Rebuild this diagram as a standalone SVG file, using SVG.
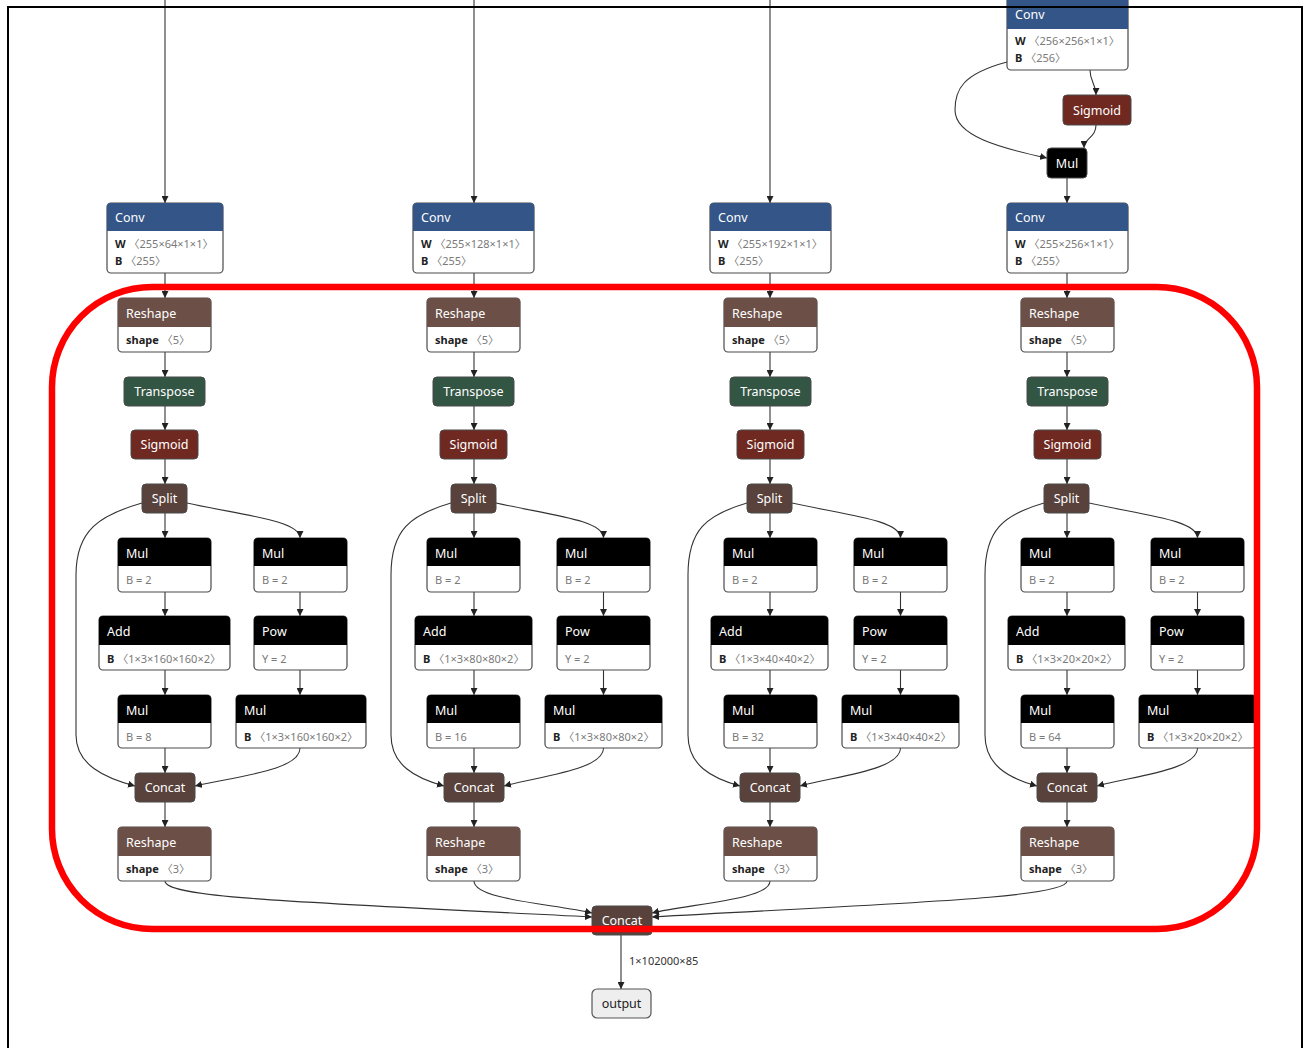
<svg xmlns="http://www.w3.org/2000/svg" width="1306" height="1048" viewBox="0 0 1306 1048">
<style>
.bx{fill:#fff;stroke:#4a4a4a;stroke-width:1.2}
.lay{fill:#335588}.act{fill:#702921}.shp{fill:#6c4f47}.ten{fill:#59423b}.trn{fill:#335544}.def{fill:#000}
.ht{font-family:"Noto Sans","Open Sans",sans-serif;font-size:12.5px;fill:#fff}
.hc{font-family:"Noto Sans","Open Sans",sans-serif;font-size:12.5px;fill:#fff;text-anchor:middle}
.at{font-family:"Noto Sans","Noto Sans CJK SC",sans-serif;font-size:11px;fill:#7a7a7a}
.an{font-weight:bold;fill:#222}
.e{fill:none;stroke:#333;stroke-width:1.1;marker-end:url(#ah)}
.frame{fill:none;stroke:#000;stroke-width:2}
.red{fill:none;stroke:#f00;stroke-width:6.5}
.lbl{font-family:"Noto Sans",sans-serif;font-size:11px;fill:#333}
</style>
<defs>
<marker id="ah" markerUnits="userSpaceOnUse" markerWidth="8" markerHeight="7" refX="7" refY="3.5" orient="auto">
<path d="M0,0 L7,3.5 L0,7 z" fill="#222"/>
</marker>
</defs>
<rect width="1306" height="1048" fill="#fff"/>

<g id="connectors">
<path class="e" d="M165,0 V203"/>
<path class="e" d="M474,0 V203"/>
<path class="e" d="M770,0 V203"/>
<path class="e" d="M1090,70 C1090,82 1096,84 1096,95"/>
<path class="e" d="M1007,62 C962,74 955,90 955,110 C955,136 1000,148 1047,158"/>
<path class="e" d="M1096,125 C1096,138 1084,138 1084,148"/>
<path class="e" d="M1067,178 V203"/>
<!-- col1 -->
<path class="e" d="M165,273 V298"/><path class="e" d="M165,352 V377"/><path class="e" d="M165,406 V430"/><path class="e" d="M165,459 V484"/><path class="e" d="M165,513 V538"/><path class="e" d="M165,592 V616"/><path class="e" d="M165,670 V695"/><path class="e" d="M165,748 V773"/><path class="e" d="M165,802 V827"/>
<path class="e" d="M187,503 C240,515 300,520 300,538"/><path class="e" d="M300,592 V616"/><path class="e" d="M300,670 V695"/>
<path class="e" d="M142,503 C100,515 76,530 76,575 V735 C76,765 105,778 135,786"/>
<path class="e" d="M300,748 C300,770 240,776 195,786"/>
<!-- col2 -->
<path class="e" d="M474,273 V298"/><path class="e" d="M474,352 V377"/><path class="e" d="M474,406 V430"/><path class="e" d="M474,459 V484"/><path class="e" d="M474,513 V538"/><path class="e" d="M474,592 V616"/><path class="e" d="M474,670 V695"/><path class="e" d="M474,748 V773"/><path class="e" d="M474,802 V827"/>
<path class="e" d="M496,503 C550,515 603.5,520 603.5,538"/><path class="e" d="M603.5,592 V616"/><path class="e" d="M603.5,670 V695"/>
<path class="e" d="M451,503 C410,515 391,530 391,575 V735 C391,765 415,778 444,786"/>
<path class="e" d="M603.5,748 C603.5,770 540,776 504,786"/>
<!-- col3 -->
<path class="e" d="M770,273 V298"/><path class="e" d="M770,352 V377"/><path class="e" d="M770,406 V430"/><path class="e" d="M770,459 V484"/><path class="e" d="M770,513 V538"/><path class="e" d="M770,592 V616"/><path class="e" d="M770,670 V695"/><path class="e" d="M770,748 V773"/><path class="e" d="M770,802 V827"/>
<path class="e" d="M792,503 C846,515 900.5,520 900.5,538"/><path class="e" d="M900.5,592 V616"/><path class="e" d="M900.5,670 V695"/>
<path class="e" d="M747,503 C706,515 688,530 688,575 V735 C688,765 711,778 740,786"/>
<path class="e" d="M900.5,748 C900.5,770 837,776 800,786"/>
<!-- col4 -->
<path class="e" d="M1067,273 V298"/><path class="e" d="M1067,352 V377"/><path class="e" d="M1067,406 V430"/><path class="e" d="M1067,459 V484"/><path class="e" d="M1067,513 V538"/><path class="e" d="M1067,592 V616"/><path class="e" d="M1067,670 V695"/><path class="e" d="M1067,748 V773"/><path class="e" d="M1067,802 V827"/>
<path class="e" d="M1089,503 C1143,515 1197.5,520 1197.5,538"/><path class="e" d="M1197.5,592 V616"/><path class="e" d="M1197.5,670 V695"/>
<path class="e" d="M1044,503 C1003,515 985,530 985,575 V735 C985,765 1008,778 1037,786"/>
<path class="e" d="M1197.5,748 C1197.5,770 1134,776 1097,786"/>
<!-- bottom -->
<path class="e" d="M165,881 C165,898 300,902 592,917"/>
<path class="e" d="M474,881 C474,900 555,904 592,913"/>
<path class="e" d="M770,881 C770,900 688,904 652,913"/>
<path class="e" d="M1067,881 C1067,898 900,903 652,917"/>
<path class="e" d="M621,935 V989"/>
</g>

<!-- top-right -->
<g id="conv_top"><rect class="bx" x="1007" y="-4" width="121" height="74" rx="4"/><path class="lay" d="M1007,29 V0 Q1007,-4 1011,-4 H1124 Q1128,-4 1128,0 V29 Z"/><text class="ht" x="1015" y="19">Conv</text><text class="at" x="1015" y="45"><tspan class="an">W</tspan> 〈256×256×1×1〉</text><text class="at" x="1015" y="62"><tspan class="an">B</tspan> 〈256〉</text></g>
<g id="sigmoid_top"><rect class="act" x="1063" y="95" width="68" height="30" rx="4" stroke="#4a4a4a"/><text class="hc" x="1097" y="115">Sigmoid</text></g>
<g id="mul_top"><rect class="def" x="1047" y="148" width="40" height="30" rx="4" stroke="#4a4a4a"/><text class="hc" x="1067" y="168">Mul</text></g>

<!-- column 1 -->
<g id="conv1"><rect class="bx" x="107" y="203" width="116" height="70" rx="4"/><path class="lay" d="M107,231 V207 Q107,203 111,203 H219 Q223,203 223,207 V231 Z"/><text class="ht" x="115" y="222">Conv</text><text class="at" x="115" y="248"><tspan class="an">W</tspan> 〈255×64×1×1〉</text><text class="at" x="115" y="265"><tspan class="an">B</tspan> 〈255〉</text></g>
<g id="reshape1"><rect class="bx" x="118" y="298" width="93" height="54" rx="4"/><path class="shp" d="M118,327 V302 Q118,298 122,298 H207 Q211,298 211,302 V327 Z"/><text class="ht" x="126" y="318">Reshape</text><text class="at" x="126" y="344"><tspan class="an">shape</tspan> 〈5〉</text></g>
<g id="transpose1"><rect class="trn" x="124" y="377" width="81" height="29" rx="4" stroke="#4a4a4a"/><text class="hc" x="164.5" y="396">Transpose</text></g>
<g id="sigmoid1"><rect class="act" x="131" y="430" width="67" height="29" rx="4" stroke="#4a4a4a"/><text class="hc" x="164.5" y="449">Sigmoid</text></g>
<g id="split1"><rect class="ten" x="142" y="484" width="45" height="29" rx="4" stroke="#4a4a4a"/><text class="hc" x="164.5" y="503">Split</text></g>
<g id="mul1a"><rect class="bx" x="118" y="538" width="93" height="54" rx="4"/><path class="def" d="M118,566 V542 Q118,538 122,538 H207 Q211,538 211,542 V566 Z"/><text class="ht" x="126" y="558">Mul</text><text class="at" x="126" y="584">B = 2</text></g>
<g id="mul1b"><rect class="bx" x="254" y="538" width="93" height="54" rx="4"/><path class="def" d="M254,566 V542 Q254,538 258,538 H343 Q347,538 347,542 V566 Z"/><text class="ht" x="262" y="558">Mul</text><text class="at" x="262" y="584">B = 2</text></g>
<g id="add1"><rect class="bx" x="99" y="616" width="131" height="54" rx="4"/><path class="def" d="M99,645 V620 Q99,616 103,616 H226 Q230,616 230,620 V645 Z"/><text class="ht" x="107" y="636">Add</text><text class="at" x="107" y="663"><tspan class="an">B</tspan> 〈1×3×160×160×2〉</text></g>
<g id="pow1"><rect class="bx" x="254" y="616" width="93" height="54" rx="4"/><path class="def" d="M254,645 V620 Q254,616 258,616 H343 Q347,616 347,620 V645 Z"/><text class="ht" x="262" y="636">Pow</text><text class="at" x="262" y="663">Y = 2</text></g>
<g id="mul1c"><rect class="bx" x="118" y="695" width="93" height="53" rx="4"/><path class="def" d="M118,723 V699 Q118,695 122,695 H207 Q211,695 211,699 V723 Z"/><text class="ht" x="126" y="715">Mul</text><text class="at" x="126" y="741">B = 8</text></g>
<g id="mul1d"><rect class="bx" x="236" y="695" width="130" height="53" rx="4"/><path class="def" d="M236,723 V699 Q236,695 240,695 H362 Q366,695 366,699 V723 Z"/><text class="ht" x="244" y="715">Mul</text><text class="at" x="244" y="741"><tspan class="an">B</tspan> 〈1×3×160×160×2〉</text></g>
<g id="concat1"><rect class="ten" x="135" y="773" width="60" height="29" rx="4" stroke="#4a4a4a"/><text class="hc" x="165" y="792">Concat</text></g>
<g id="reshape1b"><rect class="bx" x="118" y="827" width="93" height="54" rx="4"/><path class="shp" d="M118,856 V831 Q118,827 122,827 H207 Q211,827 211,831 V856 Z"/><text class="ht" x="126" y="847">Reshape</text><text class="at" x="126" y="873"><tspan class="an">shape</tspan> 〈3〉</text></g>

<!-- column 2 -->
<g id="conv2"><rect class="bx" x="413" y="203" width="121" height="70" rx="4"/><path class="lay" d="M413,231 V207 Q413,203 417,203 H530 Q534,203 534,207 V231 Z"/><text class="ht" x="421" y="222">Conv</text><text class="at" x="421" y="248"><tspan class="an">W</tspan> 〈255×128×1×1〉</text><text class="at" x="421" y="265"><tspan class="an">B</tspan> 〈255〉</text></g>
<g id="reshape2"><rect class="bx" x="427" y="298" width="93" height="54" rx="4"/><path class="shp" d="M427,327 V302 Q427,298 431,298 H516 Q520,298 520,302 V327 Z"/><text class="ht" x="435" y="318">Reshape</text><text class="at" x="435" y="344"><tspan class="an">shape</tspan> 〈5〉</text></g>
<g id="transpose2"><rect class="trn" x="433" y="377" width="81" height="29" rx="4" stroke="#4a4a4a"/><text class="hc" x="473.5" y="396">Transpose</text></g>
<g id="sigmoid2"><rect class="act" x="440" y="430" width="67" height="29" rx="4" stroke="#4a4a4a"/><text class="hc" x="473.5" y="449">Sigmoid</text></g>
<g id="split2"><rect class="ten" x="451" y="484" width="45" height="29" rx="4" stroke="#4a4a4a"/><text class="hc" x="473.5" y="503">Split</text></g>
<g id="mul2a"><rect class="bx" x="427" y="538" width="93" height="54" rx="4"/><path class="def" d="M427,566 V542 Q427,538 431,538 H516 Q520,538 520,542 V566 Z"/><text class="ht" x="435" y="558">Mul</text><text class="at" x="435" y="584">B = 2</text></g>
<g id="mul2b"><rect class="bx" x="557" y="538" width="93" height="54" rx="4"/><path class="def" d="M557,566 V542 Q557,538 561,538 H646 Q650,538 650,542 V566 Z"/><text class="ht" x="565" y="558">Mul</text><text class="at" x="565" y="584">B = 2</text></g>
<g id="add2"><rect class="bx" x="415" y="616" width="117" height="54" rx="4"/><path class="def" d="M415,645 V620 Q415,616 419,616 H528 Q532,616 532,620 V645 Z"/><text class="ht" x="423" y="636">Add</text><text class="at" x="423" y="663"><tspan class="an">B</tspan> 〈1×3×80×80×2〉</text></g>
<g id="pow2"><rect class="bx" x="557" y="616" width="93" height="54" rx="4"/><path class="def" d="M557,645 V620 Q557,616 561,616 H646 Q650,616 650,620 V645 Z"/><text class="ht" x="565" y="636">Pow</text><text class="at" x="565" y="663">Y = 2</text></g>
<g id="mul2c"><rect class="bx" x="427" y="695" width="93" height="53" rx="4"/><path class="def" d="M427,723 V699 Q427,695 431,695 H516 Q520,695 520,699 V723 Z"/><text class="ht" x="435" y="715">Mul</text><text class="at" x="435" y="741">B = 16</text></g>
<g id="mul2d"><rect class="bx" x="545" y="695" width="117" height="53" rx="4"/><path class="def" d="M545,723 V699 Q545,695 549,695 H658 Q662,695 662,699 V723 Z"/><text class="ht" x="553" y="715">Mul</text><text class="at" x="553" y="741"><tspan class="an">B</tspan> 〈1×3×80×80×2〉</text></g>
<g id="concat2"><rect class="ten" x="444" y="773" width="60" height="29" rx="4" stroke="#4a4a4a"/><text class="hc" x="474" y="792">Concat</text></g>
<g id="reshape2b"><rect class="bx" x="427" y="827" width="93" height="54" rx="4"/><path class="shp" d="M427,856 V831 Q427,827 431,827 H516 Q520,827 520,831 V856 Z"/><text class="ht" x="435" y="847">Reshape</text><text class="at" x="435" y="873"><tspan class="an">shape</tspan> 〈3〉</text></g>

<!-- column 3 -->
<g id="conv3"><rect class="bx" x="710" y="203" width="121" height="70" rx="4"/><path class="lay" d="M710,231 V207 Q710,203 714,203 H827 Q831,203 831,207 V231 Z"/><text class="ht" x="718" y="222">Conv</text><text class="at" x="718" y="248"><tspan class="an">W</tspan> 〈255×192×1×1〉</text><text class="at" x="718" y="265"><tspan class="an">B</tspan> 〈255〉</text></g>
<g id="reshape3"><rect class="bx" x="724" y="298" width="93" height="54" rx="4"/><path class="shp" d="M724,327 V302 Q724,298 728,298 H813 Q817,298 817,302 V327 Z"/><text class="ht" x="732" y="318">Reshape</text><text class="at" x="732" y="344"><tspan class="an">shape</tspan> 〈5〉</text></g>
<g id="transpose3"><rect class="trn" x="730" y="377" width="81" height="29" rx="4" stroke="#4a4a4a"/><text class="hc" x="770.5" y="396">Transpose</text></g>
<g id="sigmoid3"><rect class="act" x="737" y="430" width="67" height="29" rx="4" stroke="#4a4a4a"/><text class="hc" x="770.5" y="449">Sigmoid</text></g>
<g id="split3"><rect class="ten" x="747" y="484" width="45" height="29" rx="4" stroke="#4a4a4a"/><text class="hc" x="769.5" y="503">Split</text></g>
<g id="mul3a"><rect class="bx" x="724" y="538" width="93" height="54" rx="4"/><path class="def" d="M724,566 V542 Q724,538 728,538 H813 Q817,538 817,542 V566 Z"/><text class="ht" x="732" y="558">Mul</text><text class="at" x="732" y="584">B = 2</text></g>
<g id="mul3b"><rect class="bx" x="854" y="538" width="93" height="54" rx="4"/><path class="def" d="M854,566 V542 Q854,538 858,538 H943 Q947,538 947,542 V566 Z"/><text class="ht" x="862" y="558">Mul</text><text class="at" x="862" y="584">B = 2</text></g>
<g id="add3"><rect class="bx" x="711" y="616" width="117" height="54" rx="4"/><path class="def" d="M711,645 V620 Q711,616 715,616 H824 Q828,616 828,620 V645 Z"/><text class="ht" x="719" y="636">Add</text><text class="at" x="719" y="663"><tspan class="an">B</tspan> 〈1×3×40×40×2〉</text></g>
<g id="pow3"><rect class="bx" x="854" y="616" width="93" height="54" rx="4"/><path class="def" d="M854,645 V620 Q854,616 858,616 H943 Q947,616 947,620 V645 Z"/><text class="ht" x="862" y="636">Pow</text><text class="at" x="862" y="663">Y = 2</text></g>
<g id="mul3c"><rect class="bx" x="724" y="695" width="93" height="53" rx="4"/><path class="def" d="M724,723 V699 Q724,695 728,695 H813 Q817,695 817,699 V723 Z"/><text class="ht" x="732" y="715">Mul</text><text class="at" x="732" y="741">B = 32</text></g>
<g id="mul3d"><rect class="bx" x="842" y="695" width="117" height="53" rx="4"/><path class="def" d="M842,723 V699 Q842,695 846,695 H955 Q959,695 959,699 V723 Z"/><text class="ht" x="850" y="715">Mul</text><text class="at" x="850" y="741"><tspan class="an">B</tspan> 〈1×3×40×40×2〉</text></g>
<g id="concat3"><rect class="ten" x="740" y="773" width="60" height="29" rx="4" stroke="#4a4a4a"/><text class="hc" x="770" y="792">Concat</text></g>
<g id="reshape3b"><rect class="bx" x="724" y="827" width="93" height="54" rx="4"/><path class="shp" d="M724,856 V831 Q724,827 728,827 H813 Q817,827 817,831 V856 Z"/><text class="ht" x="732" y="847">Reshape</text><text class="at" x="732" y="873"><tspan class="an">shape</tspan> 〈3〉</text></g>

<!-- column 4 -->
<g id="conv4"><rect class="bx" x="1007" y="203" width="121" height="70" rx="4"/><path class="lay" d="M1007,231 V207 Q1007,203 1011,203 H1124 Q1128,203 1128,207 V231 Z"/><text class="ht" x="1015" y="222">Conv</text><text class="at" x="1015" y="248"><tspan class="an">W</tspan> 〈255×256×1×1〉</text><text class="at" x="1015" y="265"><tspan class="an">B</tspan> 〈255〉</text></g>
<g id="reshape4"><rect class="bx" x="1021" y="298" width="93" height="54" rx="4"/><path class="shp" d="M1021,327 V302 Q1021,298 1025,298 H1110 Q1114,298 1114,302 V327 Z"/><text class="ht" x="1029" y="318">Reshape</text><text class="at" x="1029" y="344"><tspan class="an">shape</tspan> 〈5〉</text></g>
<g id="transpose4"><rect class="trn" x="1027" y="377" width="81" height="29" rx="4" stroke="#4a4a4a"/><text class="hc" x="1067.5" y="396">Transpose</text></g>
<g id="sigmoid4"><rect class="act" x="1034" y="430" width="67" height="29" rx="4" stroke="#4a4a4a"/><text class="hc" x="1067.5" y="449">Sigmoid</text></g>
<g id="split4"><rect class="ten" x="1044" y="484" width="45" height="29" rx="4" stroke="#4a4a4a"/><text class="hc" x="1066.5" y="503">Split</text></g>
<g id="mul4a"><rect class="bx" x="1021" y="538" width="93" height="54" rx="4"/><path class="def" d="M1021,566 V542 Q1021,538 1025,538 H1110 Q1114,538 1114,542 V566 Z"/><text class="ht" x="1029" y="558">Mul</text><text class="at" x="1029" y="584">B = 2</text></g>
<g id="mul4b"><rect class="bx" x="1151" y="538" width="93" height="54" rx="4"/><path class="def" d="M1151,566 V542 Q1151,538 1155,538 H1240 Q1244,538 1244,542 V566 Z"/><text class="ht" x="1159" y="558">Mul</text><text class="at" x="1159" y="584">B = 2</text></g>
<g id="add4"><rect class="bx" x="1008" y="616" width="117" height="54" rx="4"/><path class="def" d="M1008,645 V620 Q1008,616 1012,616 H1121 Q1125,616 1125,620 V645 Z"/><text class="ht" x="1016" y="636">Add</text><text class="at" x="1016" y="663"><tspan class="an">B</tspan> 〈1×3×20×20×2〉</text></g>
<g id="pow4"><rect class="bx" x="1151" y="616" width="93" height="54" rx="4"/><path class="def" d="M1151,645 V620 Q1151,616 1155,616 H1240 Q1244,616 1244,620 V645 Z"/><text class="ht" x="1159" y="636">Pow</text><text class="at" x="1159" y="663">Y = 2</text></g>
<g id="mul4c"><rect class="bx" x="1021" y="695" width="93" height="53" rx="4"/><path class="def" d="M1021,723 V699 Q1021,695 1025,695 H1110 Q1114,695 1114,699 V723 Z"/><text class="ht" x="1029" y="715">Mul</text><text class="at" x="1029" y="741">B = 64</text></g>
<g id="mul4d"><rect class="bx" x="1139" y="695" width="117" height="53" rx="4"/><path class="def" d="M1139,723 V699 Q1139,695 1143,695 H1252 Q1256,695 1256,699 V723 Z"/><text class="ht" x="1147" y="715">Mul</text><text class="at" x="1147" y="741"><tspan class="an">B</tspan> 〈1×3×20×20×2〉</text></g>
<g id="concat4"><rect class="ten" x="1037" y="773" width="60" height="29" rx="4" stroke="#4a4a4a"/><text class="hc" x="1067" y="792">Concat</text></g>
<g id="reshape4b"><rect class="bx" x="1021" y="827" width="93" height="54" rx="4"/><path class="shp" d="M1021,856 V831 Q1021,827 1025,827 H1110 Q1114,827 1114,831 V856 Z"/><text class="ht" x="1029" y="847">Reshape</text><text class="at" x="1029" y="873"><tspan class="an">shape</tspan> 〈3〉</text></g>

<!-- bottom -->
<g id="concat_out"><rect class="ten" x="592" y="906" width="60" height="29" rx="4" stroke="#4a4a4a"/><text class="hc" x="622" y="925">Concat</text></g>
<text class="lbl" x="629" y="965">1×102000×85</text>
<g id="output"><rect x="592" y="989" width="59" height="29" rx="5" fill="#eee" stroke="#555" stroke-width="1.2"/><text x="621.5" y="1008" font-family="Noto Sans, sans-serif" font-size="12.5" fill="#222" text-anchor="middle">output</text></g>

<rect class="red" x="52" y="287" width="1205" height="642" rx="100" ry="100"/>
<path class="frame" d="M8,1050 V7 H1302 V1050"/>
</svg>
